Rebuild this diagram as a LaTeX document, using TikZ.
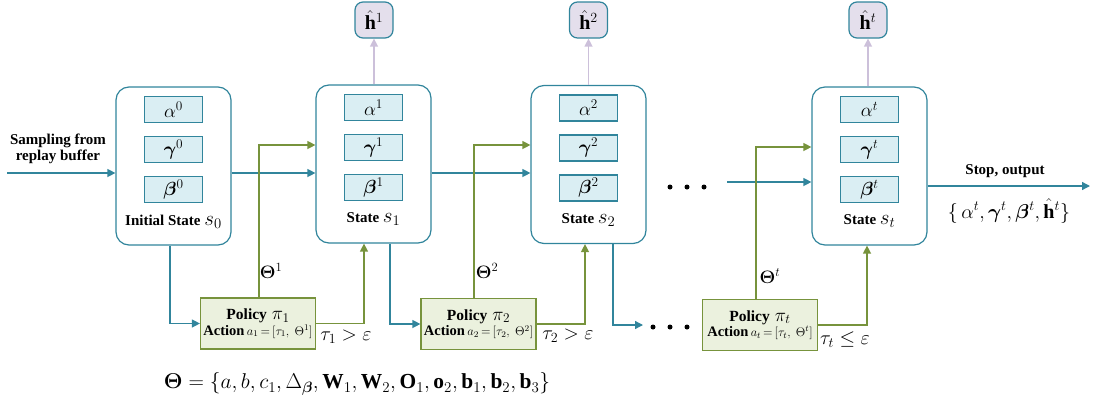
\RequirePackage{fix-cm}
\documentclass[tikz,border=0pt]{standalone}
\usepackage{amsmath}
\usepackage{bm}
\usepackage{fontspec}
\setmainfont{Liberation Serif}
\usetikzlibrary{arrows.meta,calc}
\definecolor{tealc}{HTML}{31859C}
\definecolor{lightblue}{HTML}{DAEEF3}
\definecolor{greenc}{HTML}{77933C}
\definecolor{lightgreen}{HTML}{EBF1DE}
\definecolor{lavender}{HTML}{E4DFEC}
\definecolor{purplec}{HTML}{CCC0DA}
\tikzset{
  statebox/.style={draw=tealc, fill=white, rounded corners=13pt, line width=1.2pt, minimum width=115pt, minimum height=158pt, inner sep=0pt},
  varbox/.style={draw=tealc, fill=lightblue, line width=1.2pt, minimum width=58pt, minimum height=26pt, inner sep=0pt, font=\fontsize{19}{19}\selectfont},
  hbox/.style={draw=tealc, fill=lavender, rounded corners=8pt, line width=1.2pt, minimum width=38pt, minimum height=36pt, inner sep=0pt, font=\fontsize{20}{20}\selectfont},
  policy/.style={draw=greenc, fill=lightgreen, line width=1.2pt, minimum width=115pt, minimum height=51pt, align=center, inner sep=0pt},
  tarr/.style={draw=tealc, line width=1.3pt, -{Triangle[length=8pt,width=8pt]}},
  garr/.style={draw=greenc, line width=1.3pt, -{Triangle[length=8pt,width=8pt]}},
  parr/.style={draw=purplec, line width=1.3pt, -{Triangle[length=8pt,width=8pt]}},
  dotc/.style={circle, fill=black, inner sep=0pt, minimum size=5pt},
  slabel/.style={font=\fontsize{15}{16}\selectfont\bfseries},
  mlabel/.style={font=\fontsize{19}{20}\selectfont},
}
\newcommand{\pol}[2]{{\fontsize{15.5}{16}\selectfont\bfseries Policy}\ \ {\fontsize{19}{19}\selectfont$\pi_{#1}$}\\[1pt]{\fontsize{14.5}{16}\selectfont\bfseries Action\,}{\fontsize{12.5}{13}\selectfont$a_{#1}\,{=}\,[\tau_{#1},\ \Theta^{#2}]$}}
\begin{document}
\begin{tikzpicture}[x=1pt,y=-1pt]
\useasboundingbox (0,0) rectangle (1093,407);

% state boxes
\node[statebox] (s0) at (173.5,166) {};
\node[statebox] (s1) at (373.5,164) {};
\node[statebox] (s2) at (588.5,164.5) {};
\node[statebox] (st) at (869.5,166) {};

% inner variable boxes
\foreach \s/\k in {s0/0,s1/1,s2/2,st/t}{
  \node[varbox] (\s a) at ($(\s.north)+(0,23)$) {$\alpha^{\k}$};
  \node[varbox] (\s g) at ($(\s.north)+(0,63)$) {$\bm{\gamma}^{\k}$};
  \node[varbox] (\s b) at ($(\s.north)+(0,103)$) {$\bm{\beta}^{\k}$};
}
\node[slabel] (s0l) at ($(s0.north)+(0,135)$) {Initial State {\mdseries\fontsize{21}{21}\selectfont$s_0$}};
\node[slabel] (s1l) at ($(s1.north)+(0,135)$) {State {\mdseries\fontsize{21}{21}\selectfont$s_1$}};
\node[slabel] (s2l) at ($(s2.north)+(0,135)$) {State {\mdseries\fontsize{21}{21}\selectfont$s_2$}};
\node[slabel] (stl) at ($(st.north)+(0,135)$) {State {\mdseries\fontsize{21}{21}\selectfont$s_t$}};

% h hat boxes
\node[hbox] (h1) at (374,20) {$\hat{\mathbf{h}}^1$};
\node[hbox] (h2) at (588.5,20) {$\hat{\mathbf{h}}^2$};
\node[hbox] (ht) at (868,20) {$\hat{\mathbf{h}}^t$};
\draw[parr] (s1.north -| h1) -- (h1.south);
\draw[parr] (s2.north -| h2) -- (h2.south);
\draw[parr] (st.north -| ht) -- (ht.south);

% policy boxes
\node[policy] (p1) at (258,323.5) {\pol{1}{1}};
\node[policy] (p2) at (478.5,324) {\pol{2}{2}};
\node[policy] (pt) at (760,325) {\pol{t}{t}};

% input
\coordinate (in) at (7,173);
\node[slabel, align=center] (samp) at (58,149) {Sampling from\\replay buffer};
\draw[tarr] (in) -- (s0.west |- in);

% S0 -> S1
\draw[tarr] (s0.east |- 0,173) -- (s1.west |- 0,173);
\draw[tarr] (s0.south -| 170,0) |- (p1.west);
\draw[garr] (p1.north -| 259,0) |- (s1.west |- 0,145);
\draw[garr] (p1.east) -| (s1.south -| 364,0);

% S1 -> S2
\draw[tarr] (s1.east |- 0,173) -- (s2.west |- 0,173);
\draw[tarr] (s1.south -| 390,0) |- (p2.west);
\draw[garr] (p2.north -| 474,0) |- (s2.west |- 0,145);
\draw[garr] (p2.east) -| (s2.south -| 585,0);

% S2 -> ...
\coordinate (d1) at (643,325);
\draw[tarr] (s2.south -| 613,0) |- (d1);
\foreach \x in {653,670,687}{\node[dotc] at (\x,327) {};}
\foreach \x in {670,687,704}{\node[dotc] at (\x,187) {};}
\coordinate (d2) at (727,182);
\draw[tarr] (d2) -- (st.west |- d2);
\draw[garr] (pt.north -| 756,0) |- (st.west |- 0,147);
\draw[garr] (pt.east) -| (st.south -| 867,0);

% output
\coordinate (out) at (1090,186);
\draw[tarr] (st.east |- out) -- (out);
\node[slabel] (stop) at (1005,171) {Stop, output};
\node[font=\fontsize{20}{20}\selectfont] (set) at (1009,211) {$\{\,\alpha^t,\bm{\gamma}^t,\bm{\beta}^t,\hat{\mathbf{h}}^t\}$};

% labels
\node[font=\fontsize{18}{18}\selectfont] (th1) at (271,271) {$\bm{\Theta}^1$};
\node[font=\fontsize{18}{18}\selectfont] (th2) at (487,271) {$\bm{\Theta}^2$};
\node[font=\fontsize{18}{18}\selectfont] (tht) at (770,276) {$\bm{\Theta}^t$};
\node[font=\fontsize{20}{20}\selectfont] (c1) at (346,337) {$\tau_1>\varepsilon$};
\node[font=\fontsize{20}{20}\selectfont] (c2) at (568,336) {$\tau_2>\varepsilon$};
\node[font=\fontsize{20}{20}\selectfont] (ct) at (845,340) {$\tau_t\le\varepsilon$};

% parameter set
\node[font=\fontsize{21.4}{22}\selectfont] (theta) at (357,384) {$\bm{\Theta}=\{a,b,c_1,\Delta_{\bm{\beta}},\mathbf{W}_1,\mathbf{W}_2,\mathbf{O}_1,\mathbf{o}_2,\mathbf{b}_1,\mathbf{b}_2,\mathbf{b}_3\}$};
\end{tikzpicture}
\end{document}
